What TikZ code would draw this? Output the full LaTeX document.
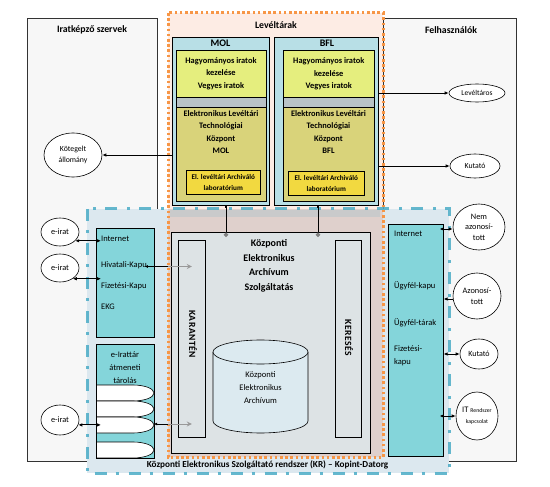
\documentclass[tikz,border=0pt]{standalone}
\usepackage{fontspec}
\setmainfont{Carlito}
\newfontfamily\spacedfont[LetterSpace=6]{Carlito}
\usetikzlibrary{arrows.meta,shapes.geometric,calc}
\definecolor{orangeD}{HTML}{F79646}
\definecolor{blueD}{HTML}{4BACC6}
\definecolor{panelfill}{HTML}{F7F7F7}
\definecolor{peach}{HTML}{FDECE4}
\definecolor{kbluefill}{HTML}{DCE8EF}
\definecolor{pinkgrey}{HTML}{DFD0CC}
\definecolor{bandgrey}{HTML}{C9CACB}
\definecolor{keaszfill}{HTML}{DDE3E5}
\definecolor{cyanbox}{HTML}{84D5DA}
\definecolor{molfill}{HTML}{B8DFE6}
\definecolor{yellowA}{HTML}{E5EE7E}
\definecolor{khaki}{HTML}{D9D37A}
\definecolor{gold}{HTML}{F2D940}
\definecolor{molband}{HTML}{B9C3C6}
\definecolor{cylfill}{HTML}{DCEAF0}
\begin{document}
\begin{tikzpicture}[x=1pt,y=-1pt,
  rbox/.style={draw, inner sep=0pt, anchor=north west, line width=0.6pt},
  fbox/.style={inner sep=0pt, anchor=north west},
  ttl/.style={font=\fontsize{9.8}{11}\selectfont\bfseries},
  btxt/.style={font=\fontsize{8.4}{12.5}\selectfont\bfseries, align=center},
  labtxt/.style={font=\fontsize{7.2}{11.5}\selectfont\bfseries, align=center},
  rtxt/.style={font=\fontsize{8.5}{13}\selectfont, anchor=west, inner sep=0pt},
  ell/.style={ellipse, draw, fill=white, inner sep=0pt, line width=0.6pt, align=center, font=\fontsize{8.3}{10.5}\selectfont},
  arr/.style={-{Latex[length=4pt,width=3.5pt]}, line width=0.9pt},
  dbl/.style={{Latex[length=4pt,width=3.5pt]}-{Latex[length=4pt,width=3.5pt]}, line width=0.9pt},
  gryarr/.style={-{Stealth[length=5pt,width=5pt,open]}, line width=0.9pt, draw=gray!80},
  orangedot/.style={draw=orangeD, line width=3pt, dash pattern=on 2.6pt off 2.6pt},
  bluedash/.style={draw=blueD, draw opacity=0.85, line width=3pt, dash pattern=on 12pt off 9pt on 3pt off 10pt},
  tongue/.style={draw, fill=white, line width=0.6pt}
]
\useasboundingbox (0,0) rectangle (550,487);
\fill[white] (0,0) rectangle (550,487);

% side panels
\node[rbox, fill=panelfill, draw=black!80, minimum width=130pt, minimum height=443pt] (irat) at (27,18) {};
\node[rbox, fill=panelfill, draw=black!80, minimum width=133pt, minimum height=443pt] (felh) at (383,18) {};
\node[ttl] (iratt) at (92,30) {Iratképző szervek};
\node[ttl] (felht) at (451,30) {Felhasználók};

% Levéltárak background
\node[fbox, fill=peach, minimum width=215pt, minimum height=444pt] (levt) at (168,13) {};
\node[ttl] (levtt) at (276,25) {Levéltárak};

% KR background
\node[fbox, fill=kbluefill, minimum width=362pt, minimum height=264pt] (kr) at (87,209) {};
\node[fbox, fill=pinkgrey, minimum width=215pt, minimum height=248pt] (pinkreg) at (168,209) {};
\node[fbox, fill=bandgrey, minimum width=210pt, minimum height=7pt] (band) at (170,210) {};

% MOL
\node[rbox, fill=molfill, minimum width=97pt, minimum height=168pt] (mol) at (172,37) {};
\node[ttl, font=\fontsize{10}{11}\selectfont\bfseries] (molt) at (220.5,43.5) {MOL};
\node[rbox, fill=yellowA, minimum width=90pt, minimum height=47pt] (molA) at (176,50) {};
\node[btxt] (molAt) at (221,73.5) {Hagyományos iratok\\kezelése\\Vegyes iratok};
\node[rbox, fill=molband, minimum width=90pt, minimum height=10pt] (molB) at (176,97) {};
\node[rbox, fill=khaki, minimum width=90pt, minimum height=94pt] (molC) at (176,107) {};
\node[btxt] (molCt) at (221,132) {Elektronikus Levéltári\\Technológiai\\Központ\\MOL};
\node[rbox, fill=gold, minimum width=74pt, minimum height=24pt] (molL) at (186,170) {};
\node[labtxt] (molLt) at (molL.center) {El. levéltári Archiváló\\laboratórium};

% BFL
\node[rbox, fill=molfill, minimum width=104pt, minimum height=168pt] (bfl) at (274,37) {};
\node[ttl, font=\fontsize{10}{11}\selectfont\bfseries] (bflt) at (327,43.5) {BFL};
\node[rbox, fill=yellowA, minimum width=91pt, minimum height=47pt] (bflA) at (283,50) {};
\node[btxt] (bflAt) at (bflA.center) {Hagyományos iratok\\kezelése\\Vegyes iratok};
\node[rbox, fill=molband, minimum width=91pt, minimum height=10pt] (bflB) at (283,97) {};
\node[rbox, fill=khaki, minimum width=91pt, minimum height=94pt] (bflC) at (283,107) {};
\node[btxt] (bflCt) at (328.5,132) {Elektronikus Levéltári\\Technológiai\\Központ\\BFL};
\node[rbox, fill=gold, minimum width=76pt, minimum height=24pt] (bflL) at (288,171) {};
\node[labtxt] (bflLt) at (bflL.center) {El. levéltári Archiváló\\laboratórium};

% KEASz
\node[rbox, fill=keaszfill, minimum width=199pt, minimum height=221pt] (keasz) at (171,232) {};
\node[font=\fontsize{10}{14.5}\selectfont\bfseries, align=center] (keaszt) at (269,266) {Központi\\Elektronikus\\Archívum\\Szolgáltatás};
\node[rbox, fill=keaszfill, minimum width=27pt, minimum height=197pt] (kar) at (178,240) {};
\node[rotate=-90, font=\spacedfont\fontsize{9.5}{10}\selectfont\bfseries] (kart) at (193,334) {KARANTÉN};
\node[rbox, fill=keaszfill, minimum width=26pt, minimum height=197pt] (ker) at (335,240) {};
\node[rotate=-90, font=\spacedfont\fontsize{9.5}{10}\selectfont\bfseries] (kert) at (349,338) {KERESÉS};

% cylinder
\fill[cylfill] (213,352) rectangle (308,421);
\fill[cylfill] (260.5,421) ellipse [x radius=47.5pt, y radius=12pt];
\draw[line width=0.6pt] (213,352) -- (213,421) arc[start angle=180, end angle=360, x radius=47.5pt, y radius=12pt] -- (308,352);
\draw[line width=0.6pt, fill=cylfill] (260.5,352) ellipse [x radius=47.5pt, y radius=12pt];
\node[font=\fontsize{8.5}{13}\selectfont, align=center] (cylt) at (260.5,388) {Központi\\Elektronikus\\Archívum};

% left cyan boxes
\node[rbox, fill=cyanbox, minimum width=58pt, minimum height=109pt] (lcy) at (96,228) {};
\node[rtxt] (inet) at (101,239) {Internet};
\node[rtxt] (hk) at (101,265) {Hivatali-Kapu};
\node[rtxt] (fk) at (101,286) {Fizetési-Kapu};
\node[rtxt] (ekg) at (101,307) {EKG};
\node[fbox, fill=cyanbox, minimum width=58pt, minimum height=114pt] (eir) at (96,344) {};
\node[font=\fontsize{8.5}{13}\selectfont, align=center] (eirt) at (125,368) {e-Irattár\\átmeneti\\tárolás};
\draw[tongue] (96,385) -- (133,385) arc[start angle=90, end angle=-90, x radius=21pt, y radius=8pt] -- (96,401);
\draw[tongue] (96,401) -- (133,401) arc[start angle=90, end angle=-90, x radius=21pt, y radius=8pt] -- (96,417);
\draw[tongue] (96,417) -- (133,417) arc[start angle=90, end angle=-90, x radius=21pt, y radius=8pt] -- (96,433);
\draw[tongue] (96,442) -- (133,442) arc[start angle=90, end angle=-90, x radius=21pt, y radius=8pt] -- (96,458);
\coordinate (s3) at (154,424);
\draw[line width=0.6pt] (eir.north west) rectangle (eir.south east);

% right cyan box
\node[rbox, fill=cyanbox, minimum width=55pt, minimum height=232pt] (rcy) at (388,224) {};
\node[rtxt] (rinet) at (394,234) {Internet};
\node[rtxt] (ugyk) at (394,286) {Ügyfél-kapu};
\node[rtxt] (ugyt) at (394,323) {Ügyfél-tárak};
\node[rtxt, align=left] (fizk) at (394,355.5) {Fizetési-\\kapu};

% borders
\draw[bluedash] (kr.north west) rectangle (kr.south east);
\draw[orangedot] (levt.north west) rectangle (levt.south east);
\node[font=\fontsize{9.2}{11}\selectfont\bfseries, fill=kbluefill, inner sep=1pt] (krt) at (267.5,465) {Központi Elektronikus Szolgáltató rendszer (KR) – Kopint-Datorg};

% ellipses
\node[ell, minimum width=38pt, minimum height=28pt] (e1) at (60,232) {e-irat};
\node[ell, minimum width=38pt, minimum height=28pt] (e2) at (60,268) {e-irat};
\node[ell, minimum width=38pt, minimum height=30pt] (e3) at (60,420) {e-irat};
\node[ell, minimum width=58pt, minimum height=44pt, font=\fontsize{7.8}{10.5}\selectfont] (kot) at (73,155) {Kötegelt\\állomány};
\node[ell, minimum width=56pt, minimum height=18pt, font=\fontsize{7.5}{9}\selectfont] (lev) at (477,93) {Levéltáros};
\node[ell, minimum width=50pt, minimum height=24pt, font=\fontsize{7.8}{9}\selectfont] (kut1) at (475,166) {Kutató};
\node[ell, minimum width=52pt, minimum height=46pt] (nem) at (479,227) {Nem\\azonosí-\\tott};
\node[ell, minimum width=48pt, minimum height=46pt] (azo) at (477,296) {Azonosí-\\tott};
\node[ell, minimum width=38pt, minimum height=30pt, font=\fontsize{8}{9}\selectfont] (kut2) at (479,354) {Kutató};
\node[ell, minimum width=42pt, minimum height=48pt, font=\fontsize{8.5}{11}\selectfont] (itr) at (477,416) {IT {\fontsize{5.8}{7}\selectfont Rendszer}\\{\fontsize{5.8}{7}\selectfont kapcsolat}};

% connectors
\draw[arr] (mol.west |- kot.east) -- (kot.east);
\draw[arr] (bfl.east |- lev.west) -- (lev.west);
\draw[arr] (bfl.east |- kut1.west) -- (kut1.west);
\coordinate (md) at (226,237);
\coordinate (bd) at (318,237);
\draw[line width=0.9pt, {Square[length=2.5pt]}-{Circle[length=4.5pt, color=gray]}] (md |- mol.south) -- (md);
\draw[line width=0.9pt, {Square[length=2.5pt]}-{Circle[length=4.5pt, color=gray]}] (bd |- bfl.south) -- (bd);
\draw[dbl] (e1.-30) -- (e1.-30 -| inet.west);
\draw[dbl] (e2.-40) -- (e2.-40 -| fk.west);
\draw[dbl] (e3.-15) -- (e3.-15 -| inet.west);
\draw[line width=0.9pt, {Latex[length=3pt,width=3pt]}-] ($(hk.east)+(-2,1.5)$) -- ($(hk.east -| levt.west)+(0,1.5)$);
\draw[gryarr] ($(hk.east -| levt.west)+(0,1.5)$) -- ($(hk.east -| kar.center)+(0,1.5)$);
\draw[line width=0.9pt, {Latex[length=3pt,width=3pt]}-] (s3) -- (s3 -| levt.west);
\draw[gryarr] (s3 -| levt.west) -- (s3 -| kar.center);
\draw[dbl] ($(rcy.east |- nem.west)+(-4,2)$) -- ($(nem.west)+(0,2)$);
\draw[arr] ($(azo.west)+(0,3)$) -- ($(rcy.east |- azo.west)+(0,3)$);
\draw[dbl] (rcy.east |- kut2.west) -- (kut2.west);
\draw[dbl] ($(rcy.east |- itr.west)+(-4,0)$) -- (itr.west);
\end{tikzpicture}
\end{document}
